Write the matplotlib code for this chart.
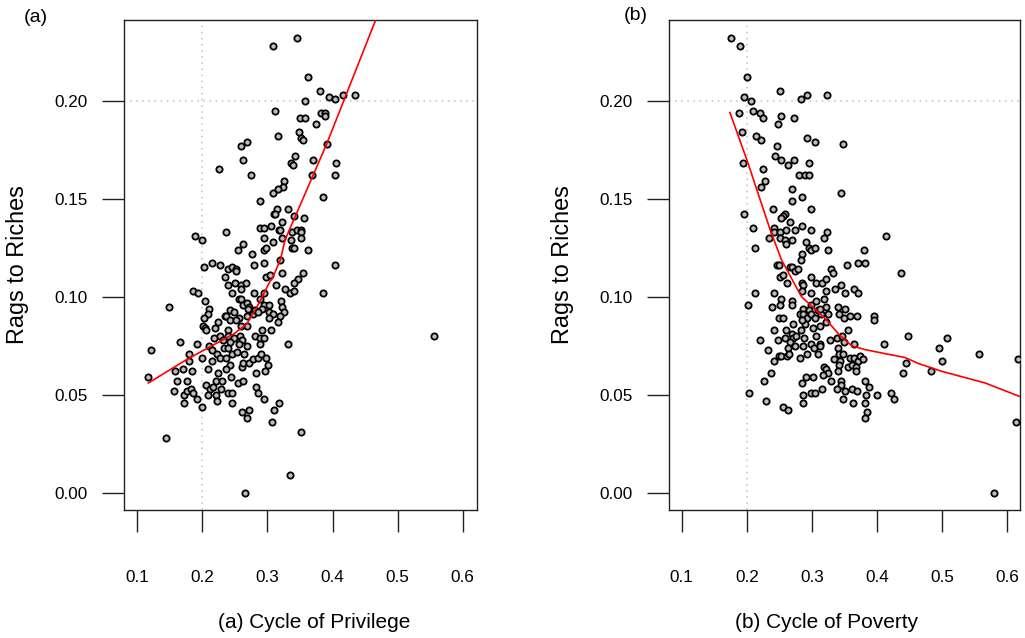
import numpy as np
import matplotlib
matplotlib.use("Agg")
import matplotlib.pyplot as plt

plt.rcParams["font.family"] = ["Liberation Sans", "DejaVu Sans"]

# ---------------------------------------------------------------------------
# Data: commuting-zone mobility measures
# ---------------------------------------------------------------------------

# (a) Cycle of Privilege vs Rags to Riches
privilege_x = [
    0.308, 0.346, 0.363, 0.380, 0.395, 0.404, 0.416, 0.435, 0.357, 0.311,
    0.383, 0.389, 0.389, 0.350, 0.358, 0.374, 0.316, 0.349, 0.352, 0.354,
    0.259, 0.269, 0.391, 0.262, 0.342, 0.336, 0.339, 0.370, 0.406, 0.225,
    0.275, 0.368, 0.403, 0.326, 0.324, 0.316, 0.308, 0.289, 0.385, 0.315,
    0.332, 0.310, 0.312, 0.340, 0.356, 0.322, 0.289, 0.295, 0.306, 0.318,
    0.320, 0.337, 0.345, 0.351, 0.352, 0.237, 0.189, 0.199, 0.295, 0.323,
    0.336, 0.351, 0.309, 0.263, 0.255, 0.295, 0.297, 0.338, 0.341, 0.363,
    0.276, 0.320,
    0.203, 0.215, 0.227, 0.239, 0.246, 0.251, 0.252, 0.279, 0.295, 0.404,
    0.323, 0.297, 0.304, 0.354, 0.347, 0.341, 0.234, 0.239, 0.250, 0.259,
    0.267, 0.259, 0.246, 0.313, 0.327, 0.334, 0.341, 0.385, 0.185, 0.194,
    0.279, 0.294, 0.148, 0.204, 0.210, 0.209, 0.256, 0.260, 0.263, 0.268,
    0.271, 0.288, 0.295, 0.302, 0.292, 0.321, 0.323, 0.326, 0.320, 0.316,
    0.303, 0.308, 0.302, 0.306, 0.292, 0.243, 0.248, 0.234, 0.237, 0.243,
    0.257, 0.252, 0.268, 0.277, 0.281, 0.286, 0.270, 0.224, 0.220, 0.202,
    0.201, 0.204, 0.206, 0.239, 0.268, 0.260, 0.218, 0.227, 0.232, 0.240,
    0.249, 0.258, 0.261, 0.256, 0.243, 0.210, 0.192, 0.165, 0.121, 0.281,
    0.288, 0.294, 0.288, 0.331, 0.556, 0.215, 0.222, 0.233, 0.240, 0.227,
    0.236, 0.246, 0.253, 0.264, 0.269, 0.200, 0.179, 0.179, 0.158, 0.170,
    0.184, 0.117, 0.161, 0.176, 0.157, 0.172, 0.177, 0.182, 0.185, 0.191,
    0.172, 0.200, 0.209, 0.215, 0.224, 0.221, 0.230, 0.242, 0.237, 0.244,
    0.255, 0.263, 0.261, 0.263, 0.272, 0.277, 0.285, 0.290, 0.297, 0.301,
    0.296, 0.282, 0.206, 0.211, 0.208, 0.217, 0.221, 0.222, 0.229, 0.239,
    0.245, 0.246, 0.261, 0.272, 0.269, 0.282, 0.286, 0.295, 0.310, 0.318,
    0.307, 0.352, 0.144, 0.334, 0.265,
]
privilege_y = [
    0.228, 0.232, 0.212, 0.205, 0.202, 0.201, 0.203, 0.203, 0.200, 0.195,
    0.194, 0.194, 0.192, 0.191, 0.191, 0.188, 0.182, 0.184, 0.181, 0.180,
    0.177, 0.179, 0.178, 0.170, 0.172, 0.168, 0.167, 0.170, 0.168, 0.165,
    0.162, 0.162, 0.162, 0.159, 0.156, 0.155, 0.153, 0.149, 0.151, 0.145,
    0.145, 0.142, 0.142, 0.141, 0.140, 0.138, 0.135, 0.135, 0.136, 0.134,
    0.134, 0.133, 0.134, 0.134, 0.133, 0.133, 0.131, 0.129, 0.130, 0.130,
    0.129, 0.130, 0.128, 0.127, 0.124, 0.124, 0.125, 0.125, 0.125, 0.124,
    0.122, 0.119,
    0.115, 0.117, 0.116, 0.114, 0.115, 0.114, 0.113, 0.116, 0.117, 0.116,
    0.112, 0.110, 0.111, 0.112, 0.109, 0.107, 0.110, 0.106, 0.107, 0.106,
    0.107, 0.104, 0.102, 0.106, 0.104, 0.102, 0.103, 0.102, 0.103, 0.102,
    0.102, 0.102, 0.095, 0.098, 0.094, 0.091, 0.099, 0.099, 0.096, 0.097,
    0.095, 0.099, 0.096, 0.096, 0.094, 0.098, 0.095, 0.092, 0.090, 0.087,
    0.092, 0.091, 0.089, 0.083, 0.083, 0.093, 0.092, 0.090, 0.090, 0.088,
    0.089, 0.088, 0.090, 0.091, 0.093, 0.092, 0.094, 0.087, 0.084, 0.089,
    0.085, 0.084, 0.083, 0.083, 0.085, 0.085, 0.079, 0.080, 0.078, 0.080,
    0.079, 0.080, 0.078, 0.076, 0.077, 0.075, 0.076, 0.077, 0.073, 0.080,
    0.079, 0.079, 0.076, 0.076, 0.080, 0.073, 0.071, 0.074, 0.074, 0.069,
    0.069, 0.071, 0.072, 0.071, 0.075, 0.069, 0.071, 0.067, 0.062, 0.063,
    0.062, 0.059, 0.057, 0.057, 0.052, 0.050, 0.052, 0.053, 0.051, 0.048,
    0.046, 0.044, 0.063, 0.067, 0.061, 0.057, 0.057, 0.065, 0.063, 0.059,
    0.056, 0.057, 0.064, 0.066, 0.066, 0.068, 0.069, 0.071, 0.069, 0.065,
    0.062, 0.061, 0.055, 0.053, 0.050, 0.054, 0.050, 0.047, 0.053, 0.051,
    0.051, 0.046, 0.041, 0.042, 0.038, 0.054, 0.051, 0.048, 0.042, 0.046,
    0.036, 0.031, 0.028, 0.009, 0.000,
]

# (b) Cycle of Poverty vs Rags to Riches
poverty_x = [
    0.175, 0.190, 0.201, 0.251, 0.283, 0.293, 0.323, 0.196, 0.207, 0.188,
    0.209, 0.221, 0.225, 0.253, 0.272, 0.248, 0.192, 0.214, 0.222, 0.292,
    0.305, 0.347, 0.246, 0.244, 0.252, 0.272, 0.263, 0.295, 0.194, 0.225,
    0.280, 0.289, 0.296, 0.228, 0.222, 0.270, 0.285, 0.269, 0.344, 0.195,
    0.240, 0.298, 0.258, 0.256, 0.253, 0.266, 0.209, 0.242, 0.241, 0.251,
    0.260, 0.274, 0.285, 0.298, 0.323, 0.414, 0.234, 0.251, 0.258, 0.269,
    0.260, 0.291, 0.318, 0.213, 0.295, 0.299, 0.304, 0.324, 0.380, 0.285,
    0.283,
    0.246, 0.250, 0.266, 0.270, 0.274, 0.279, 0.330, 0.333, 0.354, 0.371,
    0.382, 0.436, 0.251, 0.256, 0.261, 0.285, 0.287, 0.299, 0.306, 0.315,
    0.321, 0.322, 0.336, 0.344, 0.350, 0.365, 0.370, 0.213, 0.202, 0.242,
    0.252, 0.251, 0.239, 0.269, 0.269, 0.285, 0.298, 0.287, 0.299, 0.295,
    0.282, 0.286, 0.292, 0.298, 0.304, 0.310, 0.314, 0.319, 0.322, 0.325,
    0.340, 0.341, 0.351, 0.349, 0.359, 0.369, 0.396, 0.396, 0.249, 0.256,
    0.271, 0.260, 0.242, 0.283, 0.289, 0.301, 0.313, 0.322, 0.355, 0.269,
    0.271, 0.275, 0.258, 0.248, 0.221, 0.288, 0.306, 0.327, 0.338, 0.346,
    0.349, 0.365, 0.411, 0.448, 0.508, 0.495, 0.267, 0.274, 0.264, 0.287,
    0.298, 0.303, 0.313, 0.313, 0.340, 0.342, 0.233, 0.241, 0.249, 0.253,
    0.262, 0.265, 0.281, 0.293, 0.309, 0.334, 0.343, 0.348, 0.359, 0.365,
    0.371, 0.374, 0.379, 0.356, 0.362, 0.368, 0.368, 0.341, 0.340,
    0.318, 0.322, 0.324, 0.317, 0.330, 0.344, 0.344, 0.339, 0.351, 0.362,
    0.369, 0.382, 0.388, 0.383, 0.400, 0.421, 0.426, 0.347, 0.363, 0.381,
    0.385, 0.381, 0.440, 0.444, 0.483, 0.499, 0.557, 0.616, 0.613, 0.579,
    0.203, 0.226, 0.237, 0.230, 0.256, 0.263, 0.285, 0.291, 0.302, 0.287,
    0.286, 0.298, 0.305, 0.316, 0.307, 0.313, 0.285,
]
poverty_y = [
    0.232, 0.228, 0.212, 0.205, 0.201, 0.203, 0.203, 0.202, 0.200, 0.194,
    0.195, 0.194, 0.191, 0.192, 0.191, 0.188, 0.184, 0.182, 0.180, 0.181,
    0.179, 0.178, 0.177, 0.172, 0.170, 0.170, 0.167, 0.168, 0.168, 0.165,
    0.162, 0.162, 0.162, 0.159, 0.156, 0.155, 0.151, 0.149, 0.153, 0.142,
    0.145, 0.145, 0.142, 0.141, 0.140, 0.138, 0.135, 0.135, 0.133, 0.133,
    0.134, 0.134, 0.136, 0.134, 0.133, 0.131, 0.130, 0.130, 0.129, 0.129,
    0.127, 0.128, 0.130, 0.125, 0.125, 0.124, 0.125, 0.124, 0.124, 0.122,
    0.119,
    0.116, 0.116, 0.115, 0.115, 0.113, 0.114, 0.114, 0.112, 0.116, 0.117,
    0.117, 0.112, 0.110, 0.111, 0.107, 0.107, 0.106, 0.110, 0.107, 0.107,
    0.109, 0.103, 0.104, 0.106, 0.102, 0.104, 0.102, 0.102, 0.096, 0.102,
    0.099, 0.096, 0.095, 0.098, 0.096, 0.103, 0.102, 0.094, 0.096, 0.093,
    0.091, 0.091, 0.089, 0.091, 0.089, 0.093, 0.091, 0.099, 0.095, 0.091,
    0.095, 0.091, 0.094, 0.089, 0.090, 0.090, 0.090, 0.088, 0.089, 0.089,
    0.086, 0.083, 0.083, 0.083, 0.086, 0.084, 0.085, 0.087, 0.083, 0.081,
    0.079, 0.080, 0.079, 0.078, 0.078, 0.079, 0.080, 0.078, 0.079, 0.080,
    0.077, 0.076, 0.076, 0.080, 0.079, 0.074, 0.077, 0.075, 0.074, 0.075,
    0.076, 0.074, 0.076, 0.075, 0.074, 0.071, 0.073, 0.067, 0.070, 0.070,
    0.070, 0.071, 0.069, 0.071, 0.071, 0.068, 0.067, 0.071, 0.069, 0.069,
    0.067, 0.070, 0.068, 0.064, 0.065, 0.064, 0.062, 0.065, 0.062,
    0.064, 0.063, 0.061, 0.060, 0.057, 0.057, 0.055, 0.053, 0.052, 0.053,
    0.052, 0.057, 0.054, 0.050, 0.050, 0.051, 0.048, 0.048, 0.046, 0.046,
    0.041, 0.038, 0.061, 0.066, 0.062, 0.067, 0.071, 0.068, 0.036, 0.000,
    0.051, 0.057, 0.061, 0.047, 0.044, 0.042, 0.056, 0.059, 0.059, 0.050,
    0.046, 0.051, 0.051, 0.053, 0.098, 0.094, 0.088,
]

# Smoothed trend lines (loess fits)
privilege_fit_x = [0.117, 0.176, 0.209, 0.248, 0.268, 0.284, 0.289, 0.304,
                   0.307, 0.320, 0.327, 0.391, 0.466]
privilege_fit_y = [0.056, 0.068, 0.074, 0.081, 0.086, 0.095, 0.098, 0.108,
                   0.109, 0.119, 0.129, 0.178, 0.241]
poverty_fit_x = [0.174, 0.202, 0.236, 0.253, 0.284, 0.320, 0.341, 0.361,
                 0.382, 0.412, 0.443, 0.463, 0.499, 0.566, 0.620]
poverty_fit_y = [0.194, 0.168, 0.134, 0.119, 0.100, 0.089, 0.081, 0.075,
                 0.073, 0.071, 0.069, 0.066, 0.062, 0.056, 0.049]

x_ticks = [0.1, 0.2, 0.3, 0.4, 0.5, 0.6]
y_ticks = [0.00, 0.05, 0.10, 0.15, 0.20]
y_label = "Rags to Riches"
panel_tags = ["(a)", "(b)"]
captions = ["(a) Cycle of Privilege", "(b) Cycle of Poverty"]


# ---------------------------------------------------------------------------
# Figure
# ---------------------------------------------------------------------------

W, H = 1025, 638
fig = plt.figure(figsize=(W / 100, H / 100), dpi=100)

panels = [
    dict(rect=[124.3 / W, 1 - 510 / H, 352.4 / W, 490 / H], xlim=(0.080, 0.6215),
         x=privilege_x, y=privilege_y, fx=privilege_fit_x, fy=privilege_fit_y,
         tag_xy=(36 / W, 1 - 17 / H), cap_xy=(314 / W, 1 - 623 / H)),
    dict(rect=[669 / W, 1 - 510 / H, 351 / W, 490 / H], xlim=(0.0805, 0.6195),
         x=poverty_x, y=poverty_y, fx=poverty_fit_x, fy=poverty_fit_y,
         tag_xy=(636 / W, 1 - 16 / H), cap_xy=(827 / W, 1 - 623 / H)),
]

for p, tag, cap in zip(panels, panel_tags, captions):
    ax = fig.add_axes(p["rect"])
    ax.set_xlim(*p["xlim"])
    ax.set_ylim(-0.0088, 0.2412)

    # reference lines at 0.2 on both axes
    ax.axvline(0.2, color="#c0c0c0", lw=1.1, ls=(0, (1, 3)), zorder=1)
    ax.axhline(0.2, color="#c0c0c0", lw=1.1, ls=(0, (1, 3)), zorder=1)

    ax.plot(p["x"], p["y"], "o", ms=4.5, mfc="#bebebe", mec="#000000",
            mew=1.3, zorder=3)
    ax.plot(p["fx"], p["fy"], color="#ff0000", lw=1.2, zorder=4)

    for side in ax.spines.values():
        side.set_linewidth(1.0)
        side.set_color("#222222")

    ax.set_xticks(x_ticks)
    ax.set_xticklabels([f"{v:.1f}" for v in x_ticks])
    ax.set_yticks(y_ticks)
    ax.set_yticklabels([f"{v:.2f}" for v in y_ticks])
    ax.tick_params(axis="both", direction="out", length=15.5, width=1.0,
                   color="#222222", labelsize=12.3)
    ax.tick_params(axis="x", pad=28)
    ax.tick_params(axis="y", pad=11)
    ax.set_ylabel(y_label, fontsize=16.8, labelpad=18)

    fig.text(*p["tag_xy"], tag, fontsize=14, ha="center", va="center")
    fig.text(*p["cap_xy"], cap, fontsize=15, ha="center", va="center")

fig.savefig("out.png", dpi=100)
